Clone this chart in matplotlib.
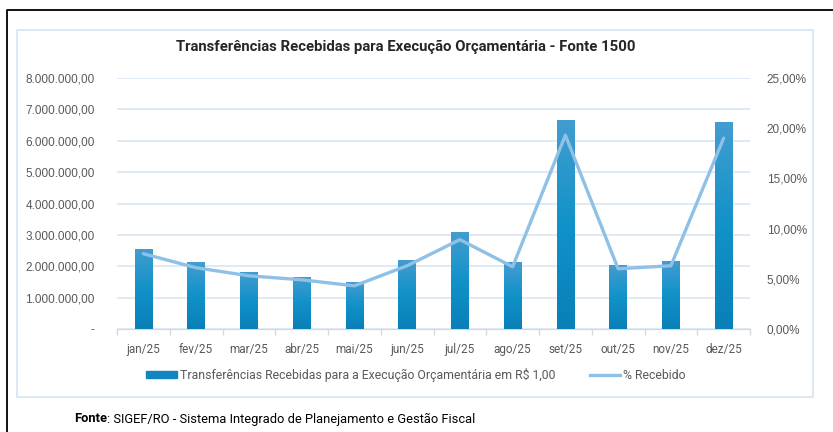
import matplotlib
matplotlib.use("Agg")
import matplotlib.pyplot as plt
import numpy as np
from matplotlib.patches import Rectangle
from matplotlib.lines import Line2D
from matplotlib.colors import LinearSegmentedColormap
from matplotlib.ticker import FuncFormatter, FixedLocator

meses = ["jan/25", "fev/25", "mar/25", "abr/25", "mai/25", "jun/25",
         "jul/25", "ago/25", "set/25", "out/25", "nov/25", "dez/25"]
transferencias = [2560000, 2120000, 1830000, 1670000, 1510000, 2210000,
                  3080000, 2120000, 6670000, 2050000, 2180000, 6600000]
perc_recebido = [7.5, 6.1, 5.3, 4.9, 4.3, 6.3, 8.9, 6.2, 19.3, 6.0, 6.3, 19.0]

titulo = "Transferências Recebidas para Execução Orçamentária - Fonte 1500"
leg_barras = "Transferências Recebidas para a Execução Orçamentária em R$ 1,00"
leg_linha = "% Recebido"
fonte_txt = ": SIGEF/RO - Sistema Integrado de Planejamento e Gestão Fiscal"

narrow = ["Roboto", "DejaVu Sans"]
plt.rcParams["font.family"] = ["Liberation Sans", "DejaVu Sans"]

W, H = 833, 432
fig = plt.figure(figsize=(W / 100, H / 100), dpi=100)
x0, x1, y0, y1 = 117, 750, 78, 329
ax = fig.add_axes([x0 / W, 1 - y1 / H, (x1 - x0) / W, (y1 - y0) / H])
ax2 = ax.twinx()

cinza = "#595959"
grade = "#d9e6f3"

# barras com degrade
x = np.arange(len(meses))
barras = ax.bar(x, transferencias, width=0.33, color="#1a8cc4", zorder=2)
grad = np.linspace(0, 1, 256).reshape(-1, 1)
cmap = LinearSegmentedColormap.from_list("b", ["#0a7fb8", "#1192c9", "#449dd0"])
for b in barras:
    bx, by = b.get_x(), b.get_y()
    bw, bh = b.get_width(), b.get_height()
    im = ax.imshow(grad, extent=[bx, bx + bw, by, by + bh], origin="lower",
                   cmap=cmap, aspect="auto", zorder=3)
    im.set_clip_path(b)

ax.set_xlim(-0.5, len(meses) - 0.5)
ax.set_ylim(0, 8000000)
ax.yaxis.set_major_locator(FixedLocator(np.arange(0, 8000001, 1000000)))

def fmt_reais(v, pos):
    if v == 0:
        return "-"
    return f"{v:,.2f}".replace(",", "X").replace(".", ",").replace("X", ".")

ax.yaxis.set_major_formatter(FuncFormatter(fmt_reais))
ax.grid(axis="y", color=grade, lw=1.2, zorder=0)
ax.set_axisbelow(True)

ax.set_xticks(x)
ax.set_xticklabels(meses, family=narrow, fontsize=8.5, color=cinza)
ax.set_xticks(np.arange(-0.5, len(meses)), minor=True)
ax.tick_params(axis="x", which="major", length=0, pad=10)
ax.tick_params(axis="x", which="minor", length=4, color="#cdd9e6", width=1)
ax.tick_params(axis="y", length=0, pad=16, labelsize=8.5, labelcolor=cinza)

ax2.plot(x, perc_recebido, color="#8fc1e6", lw=2.4, solid_capstyle="round", zorder=4)
ax2.set_ylim(0, 25)
ax2.yaxis.set_major_locator(FixedLocator(np.arange(0, 26, 5)))
ax2.yaxis.set_major_formatter(FuncFormatter(lambda v, p: f"{v:.2f}%".replace(".", ",")))
ax2.tick_params(axis="y", length=0, pad=12, labelsize=8.5, labelcolor=cinza)

for a in (ax, ax2):
    for s in ("top", "left", "right"):
        a.spines[s].set_visible(False)
    a.spines["bottom"].set_color("#cdd9e6")
ax2.spines["bottom"].set_visible(False)

# titulo
fig.text(406 / W, 1 - 47 / H, titulo, ha="center", va="center", fontsize=10.7,
         fontweight="bold", family=narrow, color="#262626")

# legenda
h1 = Rectangle((0, 0), 1, 1, color="#0f86c0")
h2 = Line2D([0], [0], color="#8fc1e6", lw=2.4)
fig.legend([h1, h2], [leg_barras, leg_linha], loc="center", ncol=2,
           bbox_to_anchor=(416 / W, 1 - 375 / H), frameon=False,
           prop={"family": narrow, "size": 8.8}, labelcolor=cinza,
           handlelength=2.5, handleheight=0.5, handletextpad=0.25, columnspacing=2.8)

# molduras
fig.add_artist(Rectangle((17.3 / W, 1 - 397 / H), (813 - 17.3) / W, (397 - 29.5) / H,
                         transform=fig.transFigure, fill=False, edgecolor="#d6e4f1", lw=1.2))
fig.add_artist(Line2D([6.7 / W, 6.7 / W, 1], [0, 1 - 9.5 / H, 1 - 9.5 / H],
                      transform=fig.transFigure, color="black", lw=1.3))

# fonte
t1 = fig.text(74 / W, 1 - 419 / H, "Fonte", ha="left", va="center", fontsize=9.3,
              fontweight="bold", family=narrow, color="black")
ax.annotate(fonte_txt, xy=(1, 0.5), xycoords=t1, ha="left", va="center",
            fontsize=9.3, family=narrow, color="black", annotation_clip=False)

fig.savefig("out.png", dpi=100)
